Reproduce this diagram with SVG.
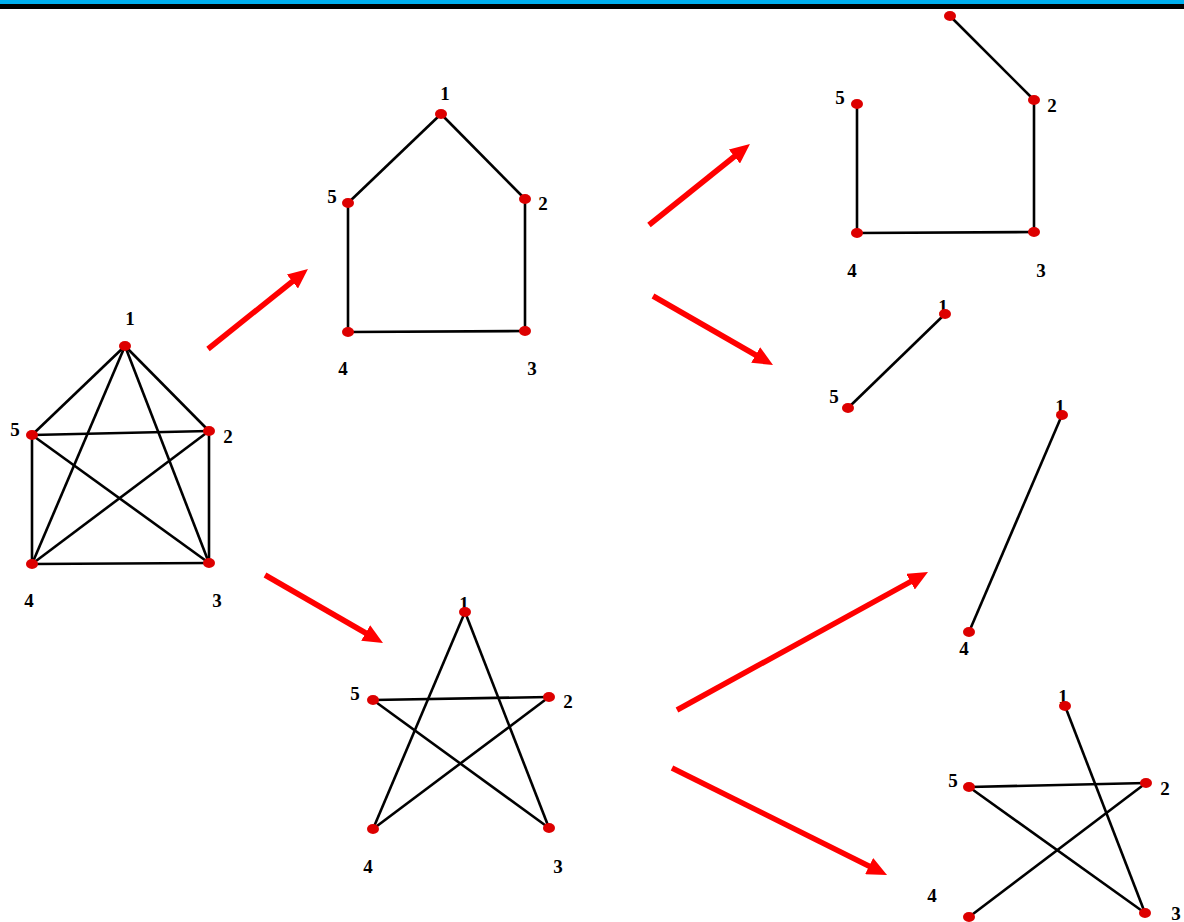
<svg xmlns="http://www.w3.org/2000/svg" width="1184" height="922" viewBox="0 0 1184 922">
<defs>
<style>
.e{stroke:#000;stroke-width:2.6;fill:none}
.n{fill:#dd0000}
.t{font-family:"Liberation Serif","Times New Roman",serif;font-weight:bold;font-size:19px;fill:#000;text-anchor:middle}
.a{stroke:#ff0000;stroke-width:5.5;fill:none;marker-end:url(#ah)}
</style>
<marker id="ah" markerUnits="userSpaceOnUse" viewBox="0 0 20 18" markerWidth="20" markerHeight="18" refX="8" refY="9" orient="auto">
<path d="M0,0 L20,9 L0,18 z" fill="#ff0000"/>
</marker>
</defs>
<rect width="1184" height="922" fill="#fff"/>
<rect x="0" y="0" width="1184" height="4" fill="#00b0f0"/>
<rect x="0" y="4" width="1184" height="5" fill="#000"/>

<g id="connectors">
<g id="edges">
<line class="e" x1="125" y1="346" x2="32" y2="435"/>
<line class="e" x1="125" y1="346" x2="209" y2="431"/>
<line class="e" x1="125" y1="346" x2="32" y2="564"/>
<line class="e" x1="125" y1="346" x2="209" y2="563"/>
<line class="e" x1="32" y1="435" x2="209" y2="431"/>
<line class="e" x1="32" y1="435" x2="32" y2="564"/>
<line class="e" x1="32" y1="435" x2="209" y2="563"/>
<line class="e" x1="209" y1="431" x2="209" y2="563"/>
<line class="e" x1="209" y1="431" x2="32" y2="564"/>
<line class="e" x1="32" y1="564" x2="209" y2="563"/>
<line class="e" x1="441" y1="114" x2="348" y2="203"/>
<line class="e" x1="441" y1="114" x2="525" y2="199"/>
<line class="e" x1="348" y1="203" x2="348" y2="332"/>
<line class="e" x1="525" y1="199" x2="525" y2="331"/>
<line class="e" x1="348" y1="332" x2="525" y2="331"/>
<line class="e" x1="950" y1="16" x2="1034" y2="100"/>
<line class="e" x1="1034" y1="100" x2="1034" y2="232"/>
<line class="e" x1="1034" y1="232" x2="857" y2="233"/>
<line class="e" x1="857" y1="233" x2="857" y2="104"/>
<line class="e" x1="945" y1="314" x2="848" y2="408"/>
<line class="e" x1="1062" y1="415" x2="969" y2="632"/>
<line class="e" x1="465" y1="612" x2="373" y2="829"/>
<line class="e" x1="465" y1="612" x2="549" y2="828"/>
<line class="e" x1="373" y1="700" x2="549" y2="697"/>
<line class="e" x1="373" y1="700" x2="549" y2="828"/>
<line class="e" x1="549" y1="697" x2="373" y2="829"/>
<line class="e" x1="1065" y1="706" x2="1145" y2="913"/>
<line class="e" x1="969" y1="787" x2="1146" y2="783"/>
<line class="e" x1="969" y1="787" x2="1145" y2="913"/>
<line class="e" x1="1146" y1="783" x2="969" y2="917"/>
</g>
<g id="arrows">
<line class="a" x1="208" y1="349" x2="298.6" y2="276.5"/>
<line class="a" x1="265" y1="575" x2="372.6" y2="637"/>
<line class="a" x1="649" y1="225" x2="740.6" y2="151.5"/>
<line class="a" x1="653" y1="296" x2="762.6" y2="359"/>
<line class="a" x1="677" y1="710" x2="917.5" y2="577.8"/>
<line class="a" x1="672" y1="768" x2="876.3" y2="869.7"/>
</g>
</g>

<g id="graphA">
<g id="A1"><ellipse class="n" cx="125" cy="346" rx="6" ry="5"/><text class="t" x="130" y="325">1</text></g>
<g id="A2"><ellipse class="n" cx="209" cy="431" rx="6" ry="5"/><text class="t" x="228" y="443">2</text></g>
<g id="A3"><ellipse class="n" cx="209" cy="563" rx="6" ry="5"/><text class="t" x="217" y="607">3</text></g>
<g id="A4"><ellipse class="n" cx="32" cy="564" rx="6" ry="5"/><text class="t" x="29" y="607">4</text></g>
<g id="A5"><ellipse class="n" cx="32" cy="435" rx="6" ry="5"/><text class="t" x="15" y="436">5</text></g>
</g>

<g id="graphB">
<g id="B1"><ellipse class="n" cx="441" cy="114" rx="6" ry="5"/><text class="t" x="445" y="100">1</text></g>
<g id="B2"><ellipse class="n" cx="525" cy="199" rx="6" ry="5"/><text class="t" x="543" y="210">2</text></g>
<g id="B3"><ellipse class="n" cx="525" cy="331" rx="6" ry="5"/><text class="t" x="532" y="375">3</text></g>
<g id="B4"><ellipse class="n" cx="348" cy="332" rx="6" ry="5"/><text class="t" x="343" y="375">4</text></g>
<g id="B5"><ellipse class="n" cx="348" cy="203" rx="6" ry="5"/><text class="t" x="332" y="203">5</text></g>
</g>

<g id="graphC">
<g id="C1"><ellipse class="n" cx="950" cy="16" rx="6" ry="5"/></g>
<g id="C2"><ellipse class="n" cx="1034" cy="100" rx="6" ry="5"/><text class="t" x="1052" y="112">2</text></g>
<g id="C3"><ellipse class="n" cx="1034" cy="232" rx="6" ry="5"/><text class="t" x="1041" y="277">3</text></g>
<g id="C4"><ellipse class="n" cx="857" cy="233" rx="6" ry="5"/><text class="t" x="852" y="277">4</text></g>
<g id="C5"><ellipse class="n" cx="857" cy="104" rx="6" ry="5"/><text class="t" x="840" y="104">5</text></g>
</g>

<g id="graphD">
<g id="D1"><text class="t" x="943" y="313">1</text><ellipse class="n" cx="945" cy="314" rx="6" ry="5"/></g>
<g id="D5"><ellipse class="n" cx="848" cy="408" rx="6" ry="5"/><text class="t" x="834" y="403">5</text></g>
</g>

<g id="graphE">
<g id="E1"><text class="t" x="1060" y="413">1</text><ellipse class="n" cx="1062" cy="415" rx="6" ry="5"/></g>
<g id="E4"><ellipse class="n" cx="969" cy="632" rx="6" ry="5"/><text class="t" x="964" y="655">4</text></g>
</g>

<g id="graphF">
<g id="F1"><text class="t" x="464" y="610">1</text><ellipse class="n" cx="465" cy="612" rx="6" ry="5"/></g>
<g id="F2"><ellipse class="n" cx="549" cy="697" rx="6" ry="5"/><text class="t" x="568" y="708">2</text></g>
<g id="F3"><ellipse class="n" cx="549" cy="828" rx="6" ry="5"/><text class="t" x="558" y="873">3</text></g>
<g id="F4"><ellipse class="n" cx="373" cy="829" rx="6" ry="5"/><text class="t" x="368" y="873">4</text></g>
<g id="F5"><ellipse class="n" cx="373" cy="700" rx="6" ry="5"/><text class="t" x="355" y="700">5</text></g>
</g>

<g id="graphG">
<g id="G1"><text class="t" x="1063" y="703">1</text><ellipse class="n" cx="1065" cy="706" rx="6" ry="5"/></g>
<g id="G2"><ellipse class="n" cx="1146" cy="783" rx="6" ry="5"/><text class="t" x="1165" y="795">2</text></g>
<g id="G3"><ellipse class="n" cx="1145" cy="913" rx="6" ry="5"/><text class="t" x="1176" y="920">3</text></g>
<g id="G4"><ellipse class="n" cx="969" cy="917" rx="6" ry="5"/><text class="t" x="932" y="902">4</text></g>
<g id="G5"><ellipse class="n" cx="969" cy="787" rx="6" ry="5"/><text class="t" x="953" y="787">5</text></g>
</g>
</svg>
